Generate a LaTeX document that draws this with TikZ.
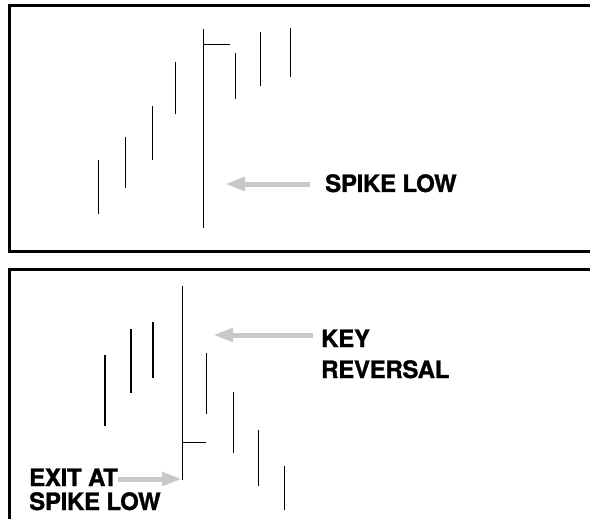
\documentclass[tikz,border=0pt]{standalone}
\usepackage{fontspec}
\setmainfont{TeX Gyre Heros}[BoldFeatures={FakeBold=1.2,LetterSpace=-1.2}]
\usetikzlibrary{arrows.meta}
\tikzset{
  frameline/.style={line width=2.8pt},
  barline/.style={line width=1.2pt},
  grayarrow/.style={draw={rgb,255:red,200;green,200;blue,200}, line width=5pt,
    -{Triangle[length=20pt,width=13pt]}},
  lbl/.style={inner sep=0pt, anchor=base west, font=\fontsize{24}{28}\selectfont\bfseries}
}
\begin{document}
\begin{tikzpicture}[x=1pt,y=-1pt]
\useasboundingbox (0,0) rectangle (590,519);
% frames
\draw[frameline] (600,5.3) -- (9.5,5.3) -- (9.5,251.3) -- (600,251.3);
\draw[frameline] (600,269.7) -- (9.5,269.7) -- (9.5,530);
% top panel bars
\foreach \x/\a/\b in {98.3/160/213.7, 125.3/137/187.7, 152.3/106/159.7, 175.5/62/114,
                      203.3/29/228, 235.3/53/99, 260.3/32/85.7, 290.3/28/77}
  \draw[barline] (\x,\a) -- (\x,\b);
\draw[barline] (203.3,44.3) -- (230,44.3);
% bottom panel bars
\foreach \x/\a/\b in {105/355/426, 131/329/393, 153/322/378, 182.3/286/480,
                      206.5/353/414, 233.3/392/452.5, 258.3/430/486, 284.3/466/510}
  \draw[barline] (\x,\a) -- (\x,\b);
\draw[barline] (182.3,442.3) -- (205.7,442.3);
% labels
\node[lbl] (spike) at (325,192) {SPIKE LOW};
\node[lbl] (keyA) at (321,347) {KEY};
\node[lbl] (keyB) at (321,378) {REVERSAL};
\node[lbl] (exitA) at (29,486) {EXIT AT};
\node[lbl] (exitB) at (29,510) {SPIKE LOW};
% arrows
\coordinate (t1) at (310,184);
\coordinate (h1) at (225,184);
\coordinate (t2) at (313,335);
\coordinate (h2) at (213,335);
\coordinate (t3) at (118,479);
\coordinate (h3) at (182,479);
\draw[grayarrow] (t1) -- (h1);
\draw[grayarrow] (t2) -- (h2);
\draw[grayarrow] (t3) -- (h3);
\end{tikzpicture}
\end{document}
